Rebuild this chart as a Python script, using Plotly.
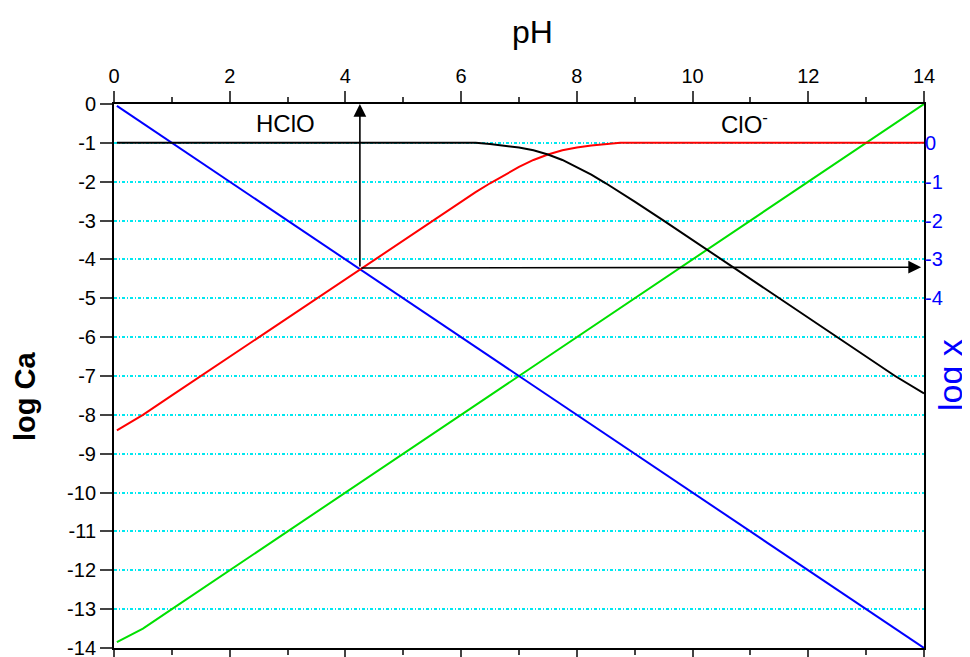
"""log C vs pH diagram for HClO / ClO- with H+ and OH- lines."""

import plotly.graph_objects as go

FONT = "Liberation Sans, Arial, sans-serif"

ph = [0.05, 0.5, 1, 1.5, 2, 2.5, 3, 3.5, 4, 4.5, 5, 5.5, 6, 6.25, 6.5, 6.75, 7, 7.25,
      7.5, 7.75, 8, 8.25, 8.5, 8.75, 9, 9.5, 10, 10.5, 11, 11.5, 12, 12.5, 13, 13.5, 14]

log_hclo = [-1.0, -1.0, -1.0, -1.0, -1.0, -1.0, -1.0, -1.0, -1.0, -1.0, -1.0, -1.0, -1.0, -1.0,
            -1.03, -1.07, -1.12, -1.19, -1.3, -1.44, -1.62, -1.82, -2.04, -2.27, -2.51, -3.0,
            -3.5, -4.0, -4.5, -5.0, -5.5, -6.0, -6.5, -7.0, -7.45]

log_clo = [-8.4, -8.0, -7.5, -7.0, -6.5, -6.0, -5.5, -5.0, -4.5, -4.0, -3.5, -3.0, -2.5, -2.27,
           -2.04, -1.82, -1.62, -1.44, -1.3, -1.19, -1.12, -1.07, -1.03, -1.0, -1.0, -1.0,
           -1.0, -1.0, -1.0, -1.0, -1.0, -1.0, -1.0, -1.0, -1.0]

log_h = [-0.05, -0.5, -1, -1.5, -2, -2.5, -3, -3.5, -4, -4.5, -5, -5.5, -6, -6.25, -6.5, -6.75,
         -7, -7.25, -7.5, -7.75, -8, -8.25, -8.5, -8.75, -9, -9.5, -10, -10.5, -11, -11.5,
         -12, -12.5, -13, -13.5, -14]

log_oh = [-13.85, -13.5, -13, -12.5, -12, -11.5, -11, -10.5, -10, -9.5, -9, -8.5, -8, -7.75,
          -7.5, -7.25, -7, -6.75, -6.5, -6.25, -6, -5.75, -5.5, -5.25, -5, -4.5, -4, -3.5,
          -3, -2.5, -2, -1.5, -1, -0.5, 0]

x_ticks = list(range(0, 15, 2))
y_ticks = list(range(0, -15, -1))
logx_ticks = [0, -1, -2, -3, -4]

ph_point = 4.25
logc_point = -4.22

fig = go.Figure()
fig.add_trace(go.Scatter(x=ph, y=log_oh, mode="lines", line=dict(color="#00e000", width=2)))
fig.add_trace(go.Scatter(x=ph, y=log_h, mode="lines", line=dict(color="#0000ff", width=2)))
fig.add_trace(go.Scatter(x=ph, y=log_clo, mode="lines", line=dict(color="#ff0000", width=2)))
fig.add_trace(go.Scatter(x=ph, y=log_hclo, mode="lines", line=dict(color="#000000", width=2)))
# dummy trace so the right axis is drawn
fig.add_trace(go.Scatter(x=[None], y=[None], yaxis="y2", showlegend=False))

arrow = dict(xref="x", yref="y", axref="x", ayref="y", showarrow=True, arrowhead=2,
             arrowsize=1.6, arrowwidth=1.6, arrowcolor="black", text="")
fig.add_annotation(x=ph_point, y=0, ax=ph_point, ay=logc_point, **arrow)
fig.add_annotation(x=13.95, y=logc_point + 0.02, ax=ph_point, ay=logc_point, **arrow)

fig.add_annotation(x=2.97, y=-0.5, xref="x", yref="y", text="HClO", showarrow=False,
                   font=dict(size=24, color="black", family=FONT))
fig.add_annotation(x=10.9, y=-0.5, xref="x", yref="y", text="ClO<sup>-</sup>", showarrow=False,
                   font=dict(size=24, color="black", family=FONT))

# axis titles placed as free text
fig.add_annotation(x=0.5, y=1, xref="paper", yref="paper", xanchor="center", yanchor="middle",
                   yshift=72, xshift=13, text="pH", showarrow=False,
                   font=dict(size=32, family=FONT))
fig.add_annotation(x=0, y=0.5, xref="paper", yref="paper", xanchor="center", yanchor="middle",
                   xshift=-89, yshift=-21, text="<b>log Ca</b>", textangle=-90, showarrow=False,
                   font=dict(size=29, family=FONT))
fig.add_annotation(x=1, y=0.5, xref="paper", yref="paper", xanchor="center", yanchor="middle",
                   xshift=26, yshift=1, text="log x", textangle=-90, showarrow=False,
                   font=dict(size=34, family=FONT, color="#0000ff"))

# the page body adds an 8px margin, so the figure is 8px smaller on each axis
fig.update_layout(
    width=962, height=649,
    margin=dict(l=106, r=46, t=96, b=9),
    plot_bgcolor="white", paper_bgcolor="white",
    showlegend=False,
    font=dict(family=FONT, size=20, color="black"),
    xaxis=dict(side="top", range=[0, 14], tickvals=x_ticks, ticktext=[str(v) for v in x_ticks],
               ticks="outside", ticklen=11, tickwidth=1.5,
               minor=dict(dtick=1, ticks="outside", ticklen=5, tickwidth=1.5),
               showline=True, linecolor="black", linewidth=2, mirror="ticks",
               showgrid=False, zeroline=False, automargin=False, tickfont=dict(size=20)),
    yaxis=dict(range=[-14, 0], tickvals=y_ticks, ticktext=[str(v) for v in y_ticks],
               ticks="outside", ticklen=12, tickwidth=1.5, ticklabeloverflow="allow",
               showline=True, linecolor="black", linewidth=2, mirror=True,
               showgrid=True, gridcolor="#00e8f0", gridwidth=1.5, griddash="3px,2px,1px,2px",
               zeroline=False, automargin=False, tickfont=dict(size=20)),
    yaxis2=dict(overlaying="y", side="right", range=[-13, 1], tickvals=logx_ticks,
                ticktext=[str(v) for v in logx_ticks], ticks="", showline=False,
                showgrid=False, zeroline=False, automargin=False,
                tickfont=dict(size=20, color="#0000ff")),
)

fig.write_html("out.html")
